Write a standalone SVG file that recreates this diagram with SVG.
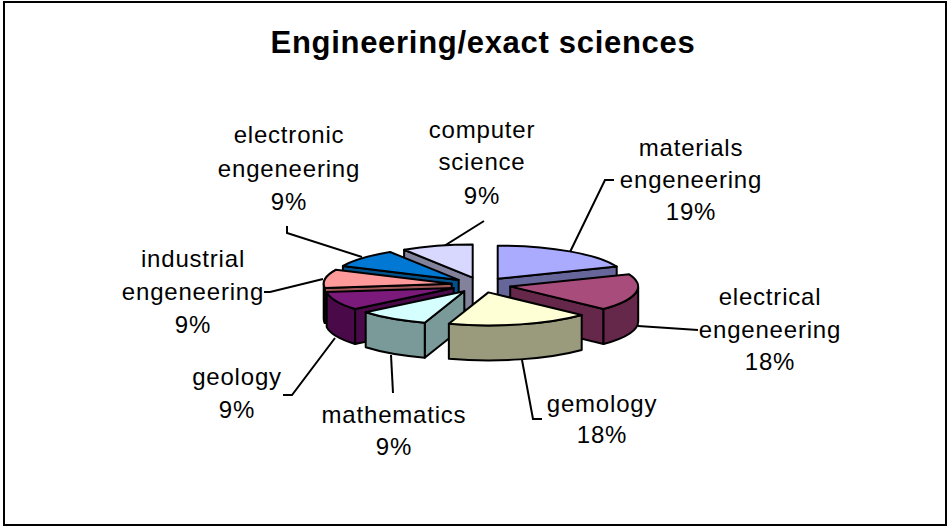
<svg xmlns="http://www.w3.org/2000/svg" width="948" height="527" viewBox="0 0 948 527">
<style>
.f{stroke:#000;stroke-width:2;stroke-linejoin:round}
.lbl{font-family:"Liberation Sans",Arial,sans-serif;font-size:24px;letter-spacing:0.8px;fill:#000;text-anchor:middle}
.ttl{font-family:"Liberation Sans",Arial,sans-serif;font-size:31px;font-weight:bold;letter-spacing:0.7px;fill:#000;text-anchor:middle}
.ld{fill:none;stroke:#000;stroke-width:2}
</style>
<rect x="4" y="2" width="942" height="523" fill="#fff" stroke="#000" stroke-width="2"/>
<text class="ttl" x="483" y="53">Engineering/exact sciences</text>

<g id="connectors">
<polyline class="ld" points="570,252 605,180 614,180"/>
<polyline class="ld" points="638,326 698,330"/>
<polyline class="ld" points="522,360 533,419 542,419"/>
<polyline class="ld" points="391,355 393,393"/>
<polyline class="ld" points="335,338 292,395 283,395"/>
<polyline class="ld" points="323,279 270,292 264,292"/>
<polyline class="ld" points="362,257 287,233 287,226"/>
<polyline class="ld" points="436,247 444,246 484,221"/>
</g>

<g id="slice-computer-science">
<path class="f" fill="#82829C" d="M472.7,277.6 L404.1,249.8 L404.1,284.8 L472.7,312.6 Z"/>
<path class="f" fill="#D8D8FF" d="M472.7,277.6 L404.1,249.8 A128,33 0 0 1 472.7,244.6 Z"/>
</g>
<g id="slice-materials">
<path class="f" fill="#66669A" d="M497.7,278.7 L616.7,266.5 L616.7,301.5 L497.7,313.7 Z"/>
<path class="f" fill="#AAAAFF" d="M497.7,278.7 L497.7,245.7 A128,33 0 0 1 616.7,266.5 Z"/>
</g>
<g id="slice-electronic">
<path class="f" fill="#00508A" d="M458.7,279.9 L342.9,265.9 L342.9,300.9 L458.7,314.9 Z"/>
<path class="f" fill="#0078D4" d="M458.7,279.9 L342.9,265.9 A128,33 0 0 1 390.1,252 Z"/>
</g>
<g id="slice-industrial">
<path class="f" fill="#A05858" d="M451.7,283.8 L324.7,287.9 L324.7,322.9 L451.7,318.8 Z"/>
<path class="f" fill="#A05858" d="M324.7,287.9 A128,33 0 0 1 323.7,283.8 L323.7,318.8 A128,33 0 0 0 324.7,322.9 Z"/>
<path class="f" fill="#FF9A9A" d="M451.7,283.8 L324.7,287.9 A128,33 0 0 1 335.9,269.75 Z"/>
</g>
<g id="slice-electrical">
<path class="f" fill="#65284A" d="M510.2,286.4 L603.5,309 L603.5,344 L510.2,321.4 Z"/>
<path class="f" fill="#65284A" d="M638.2,286.4 A128,33 0 0 1 603.5,309 L603.5,344 A128,33 0 0 0 638.2,321.4 Z"/>
<path class="f" fill="#A84C7C" d="M510.2,286.4 L629.2,274.3 A128,33 0 0 1 603.5,309 Z"/>
</g>
<g id="slice-geology">
<path class="f" fill="#4A0A4A" d="M453.7,288 L355.1,309 L355.1,344 L453.7,323 Z"/>
<path class="f" fill="#4A0A4A" d="M355.1,309 A128,33 0 0 1 326.7,292.1 L326.7,327.1 A128,33 0 0 0 355.1,344 Z"/>
<path class="f" fill="#7B1A7B" d="M453.7,288 L355.1,309 A128,33 0 0 1 326.7,292.1 Z"/>
</g>
<g id="slice-mathematics">
<path class="f" fill="#7A9A99" d="M464.3,291.3 L424.75,322.7 L424.75,357.7 L464.3,326.3 Z"/>
<path class="f" fill="#7A9A99" d="M424.75,322.7 A128,33 0 0 1 365.7,312.3 L365.7,347.3 A128,33 0 0 0 424.75,357.7 Z"/>
<path class="f" fill="#D5FFFF" d="M464.3,291.3 L424.75,322.7 A128,33 0 0 1 365.7,312.3 Z"/>
</g>
<g id="slice-gemology">
<path class="f" fill="#9A9A7C" d="M581.7,315 A128,33 0 0 1 448.85,323.8 L448.85,358.8 A128,33 0 0 0 581.7,350 Z"/>
<path class="f" fill="#FFFFD5" d="M488.4,292.4 L581.7,315 A128,33 0 0 1 448.85,323.8 Z"/>
</g>

<g id="label-materials"><text class="lbl" x="691" y="156">materials</text><text class="lbl" x="691" y="188">engeneering</text><text class="lbl" x="691" y="220">19%</text></g>
<g id="label-electrical"><text class="lbl" x="770" y="305">electrical</text><text class="lbl" x="770" y="338">engeneering</text><text class="lbl" x="770" y="370">18%</text></g>
<g id="label-gemology"><text class="lbl" x="602" y="412">gemology</text><text class="lbl" x="602" y="443">18%</text></g>
<g id="label-mathematics"><text class="lbl" x="394" y="423">mathematics</text><text class="lbl" x="394" y="455">9%</text></g>
<g id="label-geology"><text class="lbl" x="237" y="385">geology</text><text class="lbl" x="237" y="418">9%</text></g>
<g id="label-industrial"><text class="lbl" x="193" y="267">industrial</text><text class="lbl" x="193" y="300">engeneering</text><text class="lbl" x="193" y="333">9%</text></g>
<g id="label-electronic"><text class="lbl" x="289" y="143">electronic</text><text class="lbl" x="289" y="177">engeneering</text><text class="lbl" x="289" y="210">9%</text></g>
<g id="label-computer-science"><text class="lbl" x="482" y="138">computer</text><text class="lbl" x="482" y="170">science</text><text class="lbl" x="482" y="204">9%</text></g>
</svg>
